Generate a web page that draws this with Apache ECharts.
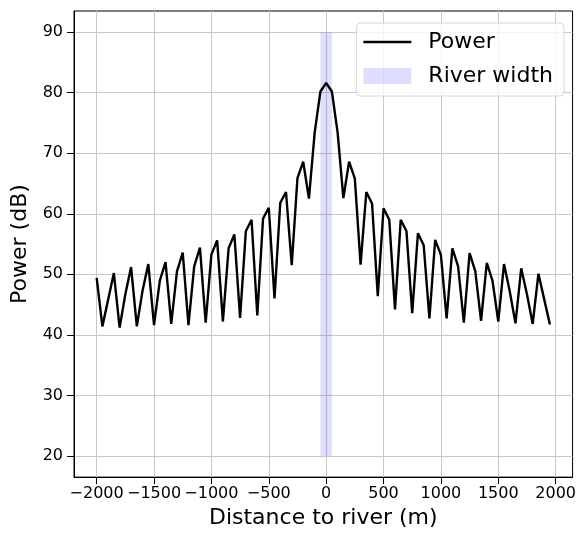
<!DOCTYPE html>
<html>
<head>
<meta charset="utf-8">
<script src="https://cdn.jsdelivr.net/npm/echarts@6/dist/echarts.min.js"></script>
<style>html,body{margin:0;padding:0;background:#fff}#c{width:579px;height:534px}</style>
</head>
<body>
<div id="c"></div>
<script>
const distances = [-2000,-1950,-1900,-1850,-1800,-1750,-1700,-1650,-1600,-1550,-1500,-1450,-1400,-1350,-1300,-1250,-1200,-1150,-1100,-1050,-1000,-950,-900,-850,-800,-750,-700,-650,-600,-550,-500,-450,-400,-350,-300,-250,-200,-150,-100,-50,0,50,100,150,200,250,300,350,400,450,500,550,600,650,700,750,800,850,900,950,1000,1050,1100,1150,1200,1250,1300,1350,1400,1450,1500,1550,1600,1650,1700,1750,1800,1850,1900,1950];
const power = [49.4,41.4,45.8,50.2,41.2,46.7,51.2,41.4,47.3,51.7,41.6,48.9,52.0,41.8,50.5,53.6,41.6,51.3,54.4,42.0,53.3,55.6,42.2,54.3,56.6,42.8,57.1,59.0,43.2,59.2,61.0,46.0,61.8,63.6,51.5,65.9,68.6,62.5,73.4,80.2,81.6,80.2,73.4,62.6,68.6,65.8,51.6,63.6,61.7,46.4,60.9,59.0,44.2,59.0,57.1,43.6,56.8,54.8,42.7,55.7,53.2,42.7,54.3,51.3,42.0,53.5,50.5,42.3,51.9,48.9,42.2,51.7,47.2,41.9,51.0,46.7,41.8,50.1,45.9,41.7];
const riverSpan = [-50, 50];
const riverYRange = [20, 90];
const xTicks = [-2000,-1500,-1000,-500,0,500,1000,1500,2000];
const yTicks = [20,30,40,50,60,70,80,90];

const FONT = 'DejaVu Sans';
const chart = echarts.init(document.getElementById('c'), null, {renderer: 'canvas'});
const fmt = v => String(v).replace('-', '\u2212');

chart.setOption({
  animation: false,
  textStyle: {fontFamily: FONT},
  grid: {left: 74, right: 3, top: 11, bottom: 53, show: true, borderColor: '#000', borderWidth: 1, containLabel: false},
  legend: {
    orient: 'vertical',
    right: 15, top: 23,
    padding: [7, 11, 8, 7],
    itemGap: 10,
    itemWidth: 48, itemHeight: 16,
    backgroundColor: 'rgba(255,255,255,0.8)',
    borderColor: '#d6d6d6', borderWidth: 1, borderRadius: 4,
    textStyle: {fontFamily: FONT, fontSize: 22, color: '#000', lineHeight: 24, padding: [0, 0, 0, 12]},
    data: [
      {name: 'Power', icon: 'path://M0,0 L48,0 L48,2.4 L0,2.4 Z', itemStyle: {color: '#000'}},
      {name: 'River width', icon: 'rect', itemStyle: {color: 'rgba(0,0,255,0.13)'}}
    ]
  },
  xAxis: {
    type: 'value', min: -2197.5, max: 2147.5,
    name: 'Distance to river (m)', nameLocation: 'middle', nameGap: 29,
    nameTextStyle: {fontFamily: FONT, fontSize: 22, color: '#000'},
    axisLine: {show: true, onZero: false, lineStyle: {color: '#000', width: 1}},
    axisTick: {show: true, inside: false, length: 7, lineStyle: {color: '#000', width: 1}, customValues: xTicks},
    axisLabel: {fontFamily: FONT, fontSize: 16, color: '#000', margin: 9, customValues: xTicks, formatter: fmt},
    splitLine: {show: true, lineStyle: {color: '#c8c8c8', width: 1}}
  },
  yAxis: {
    type: 'value', min: 16.5, max: 93.5,
    name: 'Power (dB)', nameLocation: 'middle', nameGap: 40,
    nameTextStyle: {fontFamily: FONT, fontSize: 22, color: '#000'},
    axisLine: {show: true, onZero: false, lineStyle: {color: '#000', width: 1}},
    axisTick: {show: true, inside: false, length: 7, lineStyle: {color: '#000', width: 1}, customValues: yTicks},
    axisLabel: {fontFamily: FONT, fontSize: 16, color: '#000', margin: 11, customValues: yTicks, formatter: fmt},
    splitLine: {show: true, lineStyle: {color: '#c8c8c8', width: 1}}
  },
  series: [
    {
      name: 'River width', type: 'line', data: [], symbol: 'none',
      itemStyle: {color: 'rgba(0,0,255,0.13)'},
      lineStyle: {color: 'rgba(0,0,255,0.13)'},
      markArea: {
        silent: true,
        itemStyle: {color: 'rgba(0,0,255,0.13)'},
        data: [[{coord: [riverSpan[0], riverYRange[0]]}, {coord: [riverSpan[1], riverYRange[1]]}]]
      }
    },
    {
      name: 'Power', type: 'line', symbol: 'none', showSymbol: false,
      data: distances.map((d, i) => [d, power[i]]),
      itemStyle: {color: '#000'},
      lineStyle: {color: '#000', width: 2.4},
      z: 3
    }
  ]
});
</script>
</body>
</html>
